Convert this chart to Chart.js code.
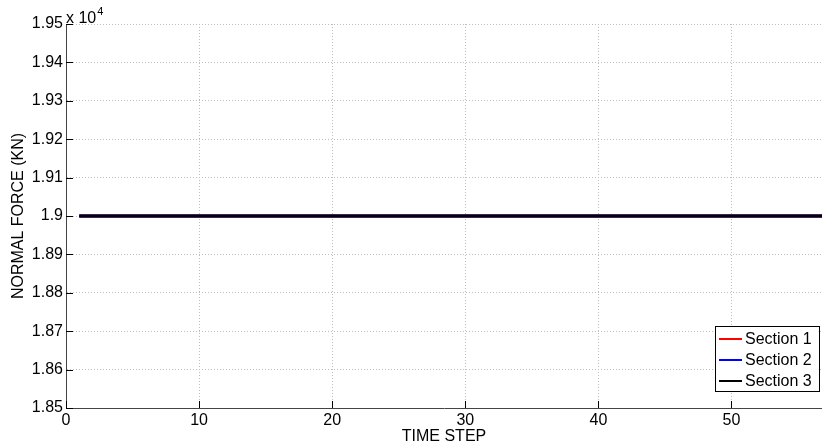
<!DOCTYPE html>
<html>
<head>
<meta charset="utf-8">
<script src="https://cdn.jsdelivr.net/npm/chart.js@4"></script>
<style>
  html, body { margin: 0; padding: 0; background: #fff; }
  #wrap { width: 822px; height: 447px; }
</style>
</head>
<body>
<div id="wrap"><canvas id="forceChart" width="822" height="447"></canvas></div>
<script>
// time steps and normal force per section (KN)
const timeSteps = [1, 2, 3, 4, 5, 6, 7, 8, 9, 10, 11, 12, 13, 14, 15, 16, 17, 18, 19, 20,
    21, 22, 23, 24, 25, 26, 27, 28, 29, 30, 31, 32, 33, 34, 35, 36, 37, 38, 39, 40,
    41, 42, 43, 44, 45, 46, 47, 48, 49, 50, 51, 52, 53, 54, 55, 56, 57];
const section1 = [19000, 19000, 19000, 19000, 19000, 19000, 19000, 19000, 19000, 19000, 19000, 19000, 19000, 19000, 19000, 19000, 19000, 19000, 19000, 19000,
    19000, 19000, 19000, 19000, 19000, 19000, 19000, 19000, 19000, 19000, 19000, 19000, 19000, 19000, 19000, 19000, 19000, 19000, 19000, 19000,
    19000, 19000, 19000, 19000, 19000, 19000, 19000, 19000, 19000, 19000, 19000, 19000, 19000, 19000, 19000, 19000, 19000];
const section2 = [19000, 19000, 19000, 19000, 19000, 19000, 19000, 19000, 19000, 19000, 19000, 19000, 19000, 19000, 19000, 19000, 19000, 19000, 19000, 19000,
    19000, 19000, 19000, 19000, 19000, 19000, 19000, 19000, 19000, 19000, 19000, 19000, 19000, 19000, 19000, 19000, 19000, 19000, 19000, 19000,
    19000, 19000, 19000, 19000, 19000, 19000, 19000, 19000, 19000, 19000, 19000, 19000, 19000, 19000, 19000, 19000, 19000];
const section3 = [19000, 19000, 19000, 19000, 19000, 19000, 19000, 19000, 19000, 19000, 19000, 19000, 19000, 19000, 19000, 19000, 19000, 19000, 19000, 19000,
    19000, 19000, 19000, 19000, 19000, 19000, 19000, 19000, 19000, 19000, 19000, 19000, 19000, 19000, 19000, 19000, 19000, 19000, 19000, 19000,
    19000, 19000, 19000, 19000, 19000, 19000, 19000, 19000, 19000, 19000, 19000, 19000, 19000, 19000, 19000, 19000, 19000];
const seriesNames = ['Section 1', 'Section 2', 'Section 3'];

// axis ticks
const xTicks = [0, 10, 20, 30, 40, 50];
const yTicks = [18500, 18600, 18700, 18800, 18900, 19000, 19100, 19200, 19300, 19400, 19500];
const yTickLabels = ['1.85', '1.86', '1.87', '1.88', '1.89', '1.9', '1.91', '1.92', '1.93', '1.94', '1.95'];

const FONT = "'Liberation Sans', Arial, sans-serif";

const toPoints = (vals) => vals.map((v, i) => ({ x: timeSteps[i], y: v }));

// matlab style: ticks pointing into the plot, exponent label, boxed legend
const matlabBits = {
    id: 'matlabBits',
    afterDraw(chart) {
        const ctx = chart.ctx;
        const area = chart.chartArea;
        const xs = chart.scales.x, ys = chart.scales.y;
        ctx.save();
        ctx.strokeStyle = '#000';
        ctx.lineWidth = 1;
        ctx.beginPath();
        xs.ticks.forEach(t => {
            const px = Math.round(xs.getPixelForValue(t.value)) + 0.5;
            ctx.moveTo(px, area.bottom);
            ctx.lineTo(px, area.bottom - 7);
        });
        ys.ticks.forEach(t => {
            const py = Math.round(ys.getPixelForValue(t.value)) + 0.5;
            ctx.moveTo(area.left, py);
            ctx.lineTo(area.left + 7, py);
        });
        ctx.stroke();

        // x 10^4
        ctx.fillStyle = '#000';
        ctx.textBaseline = 'alphabetic';
        ctx.textAlign = 'left';
        ctx.font = '16px ' + FONT;
        ctx.fillText('x 10', area.left, area.top - 1);
        const w = ctx.measureText('x 10').width;
        ctx.font = '11px ' + FONT;
        ctx.fillText('4', area.left + w + 1, area.top - 9);

        // legend
        const bx = 715, by = 326, bw = 104, bh = 65;
        ctx.fillStyle = '#fff';
        ctx.fillRect(bx, by, bw, bh);
        ctx.strokeStyle = '#000';
        ctx.strokeRect(bx + 0.5, by + 0.5, bw, bh);
        ctx.font = '16px ' + FONT;
        ctx.textBaseline = 'middle';
        chart.data.datasets.forEach((ds, i) => {
            const ry = by + 13 + i * 21;
            ctx.strokeStyle = ds.borderColor;
            ctx.lineWidth = 2;
            ctx.beginPath();
            ctx.moveTo(bx + 4, ry);
            ctx.lineTo(bx + 27, ry);
            ctx.stroke();
            ctx.fillStyle = '#000';
            ctx.fillText(ds.label, bx + 30, ry + 1);
        });
        ctx.restore();
    }
};

new Chart(document.getElementById('forceChart'), {
    type: 'line',
    data: {
        datasets: [
            { label: seriesNames[0], data: toPoints(section1), borderColor: '#ff0000', order: 3 },
            { label: seriesNames[1], data: toPoints(section2), borderColor: '#0000ff', order: 2 },
            { label: seriesNames[2], data: toPoints(section3), borderColor: '#000000', order: 1 }
        ]
    },
    options: {
        responsive: false,
        animation: false,
        layout: { padding: { top: 24, right: 0, bottom: 0, left: 0 } },
        elements: {
            point: { radius: 0 },
            line: { borderWidth: 3, tension: 0 }
        },
        plugins: {
            legend: { display: false },
            tooltip: { enabled: false }
        },
        scales: {
            x: {
                type: 'linear',
                min: 0,
                max: 56.8,
                afterBuildTicks: (scale) => { scale.ticks = xTicks.map(v => ({ value: v })); },
                afterFit: (scale) => { scale.height = 39; },
                ticks: { color: '#000', font: { family: FONT, size: 16 }, padding: 3, maxRotation: 0 },
                grid: { color: '#bdbdbd', lineWidth: 1, drawTicks: false },
                border: { color: '#444', width: 1, dash: [1, 2] },
                title: { display: true, text: 'TIME STEP', color: '#000', font: { family: FONT, size: 16 }, padding: { top: 0, bottom: 1 } }
            },
            y: {
                min: 18500,
                max: 19500,
                afterBuildTicks: (scale) => { scale.ticks = yTicks.map(v => ({ value: v })); },
                afterFit: (scale) => { scale.width = 66; },
                ticks: {
                    color: '#000', font: { family: FONT, size: 16 }, padding: 3,
                    callback: (v) => yTickLabels[yTicks.indexOf(v)]
                },
                grid: { color: '#bdbdbd', lineWidth: 1, drawTicks: false },
                border: { color: '#444', width: 1, dash: [1, 2] },
                title: { display: true, text: 'NORMAL FORCE (KN)', color: '#000', font: { family: FONT, size: 16 }, padding: { top: 9, bottom: 0 } }
            }
        }
    },
    plugins: [matlabBits]
});
</script>
</body>
</html>
